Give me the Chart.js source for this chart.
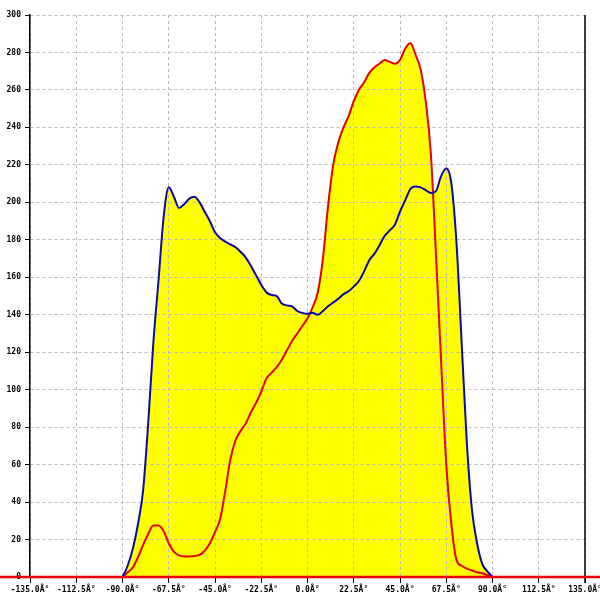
<!DOCTYPE html>
<html>
<head>
<meta charset="utf-8">
<script src="https://cdn.jsdelivr.net/npm/chart.js@4/dist/chart.umd.min.js"></script>
<style>
  html, body { margin: 0; padding: 0; background: #fff; }
  #wrap { width: 600px; height: 600px; }
</style>
</head>
<body>
<div id="wrap"><canvas id="polar-dist"></canvas></div>
<script>
// angles in degrees
const angles = [-90,-87.5,-85,-82.5,-80,-77.5,-75,-72.5,-70,-67.5,-65,-62.5,-60,-57.5,-55,-52.5,-50,-47.5,-45,-42.5,
  -40,-37.5,-35,-32.5,-30,-27.5,-25,-22.5,-20,-17.5,-15,-12.5,-10,-7.5,-5,-2.5,0,2.5,5,7.5,10,12.5,15,17.5,20,22.5,
  25,27.5,30,32.5,35,37.5,40,42.5,45,47.5,50,52.5,55,57.5,60,62.5,65,67.5,70,72.5,75,77.5,80,82.5,85,87.5,90];

const blueValues = [0,6,15,28,46,82,125,158,192,208,203,197,199,202,203,200,195,190,184,181,
  179,177.5,176,173.5,170.5,166,161,156,152,150.5,150,146,145,144.5,142,141,140.5,141,140,142,144.5,146.5,148.5,151,152.5,155,
  158,163,169,172.5,177,182,185,188,195,201,207,208.5,208,206.5,205,206,214,218,210,178,125,72,36,18,7,3,0];

const redValues = [0,2.5,5,10.5,17,23,27.5,27.5,24.5,18,13.5,11.5,11,11,11.2,11.8,14,18,24,31,
  46,63,73,78,82,88,93,99,106,109,112,116,121,126,130,134,138,144,152,170,198,220,232,240,246,254,
  260,264,269,272,274,276,275,274,276,282,285,279,271,254,226,172,115,60,28,9,6,4.5,3.5,2.5,2,1,0];

const xTicks = [-135,-112.5,-90,-67.5,-45,-22.5,0,22.5,45,67.5,90,112.5,135];
const yMax = 300;
const yStep = 20;

const toPoints = (vals) => angles.map((a, i) => ({ x: a, y: vals[i] }));

const frameLines = {
  id: 'frameLines',
  afterDatasetsDraw(chart) {
    const ctx = chart.ctx;
    const x = chart.scales.x, y = chart.scales.y;
    const y0 = y.getPixelForValue(0);
    ctx.save();
    // right border at 135
    const xr = x.getPixelForValue(135);
    ctx.strokeStyle = '#000';
    ctx.lineWidth = 1.5;
    ctx.beginPath();
    ctx.moveTo(xr, chart.chartArea.top);
    ctx.lineTo(xr, y0 + 6);
    ctx.stroke();
    // red baseline full width
    ctx.strokeStyle = '#e60000';
    ctx.lineWidth = 2.5;
    ctx.beginPath();
    ctx.moveTo(0, y0);
    ctx.lineTo(chart.width, y0);
    ctx.stroke();
    ctx.restore();
  }
};

const ctx = document.getElementById('polar-dist').getContext('2d');

const polarChart = new Chart(ctx, {
  type: 'line',
  data: {
    datasets: [{
      label: 'blue',
      data: toPoints(blueValues),
      borderColor: '#0a0aa8',
      backgroundColor: '#ffff00',
      fill: 'origin',
      borderWidth: 2,
      pointRadius: 0,
      cubicInterpolationMode: 'monotone'
    }, {
      label: 'red',
      data: toPoints(redValues),
      borderColor: '#e60000',
      backgroundColor: '#ffff00',
      fill: 'origin',
      borderWidth: 2,
      pointRadius: 0,
      cubicInterpolationMode: 'monotone'
    }]
  },
  options: {
    responsive: true,
    maintainAspectRatio: false,
    animation: false,
    layout: { padding: { top: 15, right: 15, left: 0, bottom: 0 } },
    scales: {
      x: {
        type: 'linear',
        min: -135,
        max: 135,
        afterBuildTicks: (s) => { s.ticks = xTicks.map(v => ({ value: v })); },
        afterFit: (s) => { s.height = 23; s.paddingLeft = 0; s.paddingRight = 0; },
        ticks: {
          autoSkip: false,
          maxRotation: 0,
          minRotation: 0,
          padding: 2,
          color: '#000',
          font: { family: 'DejaVu Sans Mono', size: 8, weight: 'bold' },
          callback: (v) => Number(v).toFixed(1) + '\u00C2\u00B0'
        },
        grid: { color: '#bbbbbb', tickColor: '#000', tickLength: 6, lineWidth: 1 },
        border: { display: false, dash: [3, 3] }
      },
      y: {
        min: 0,
        max: yMax,
        afterFit: (s) => { s.width = 30; s.paddingTop = 0; s.paddingBottom = 0; },
        ticks: {
          stepSize: yStep,
          padding: 4,
          color: '#000',
          font: { family: 'DejaVu Sans Mono', size: 8, weight: 'bold' }
        },
        grid: { color: '#bbbbbb', tickColor: '#000', tickLength: 5, lineWidth: 1 },
        border: { display: true, color: '#000', width: 1.5, dash: [3, 3] }
      }
    },
    plugins: {
      legend: { display: false },
      tooltip: { enabled: false },
      filler: { drawTime: 'beforeDraw' }
    }
  },
  plugins: [frameLines]
});
</script>
</body>
</html>
